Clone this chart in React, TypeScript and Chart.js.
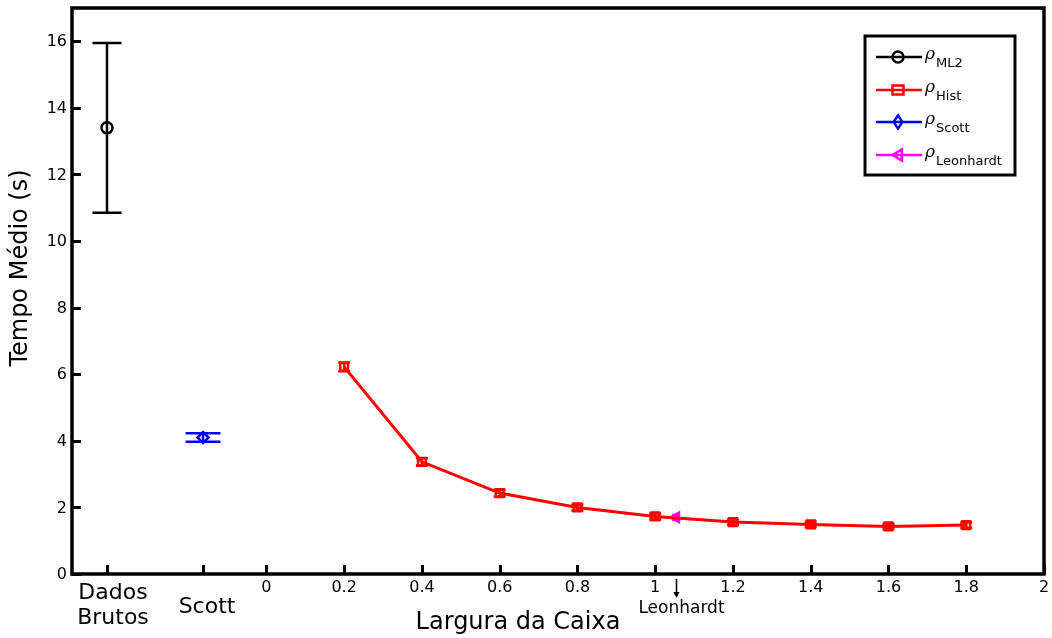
import React, { useEffect, useRef } from "react";
import { Chart, registerables } from "chart.js";

Chart.register(...registerables);

// ---- data ----
const categoryLabels = ["Dados\nBrutos", "Scott"];
const categoryPositions = [-0.41, -0.163];

const ml2X = [-0.41];
const ml2Mean = [13.4];
const ml2Err = [2.55];

const scottX = [-0.163];
const scottMean = [4.1];
const scottErr = [0.13];

const histWidths = [0.2, 0.4, 0.6, 0.8, 1.0, 1.2, 1.4, 1.6, 1.8];
const histMean = [6.22, 3.37, 2.43, 2.0, 1.73, 1.56, 1.49, 1.43, 1.47];
const histErr = [0.13, 0.11, 0.1, 0.09, 0.09, 0.08, 0.08, 0.08, 0.08];

const leonX = [1.054];
const leonMean = [1.7];
const leonErr = [0.07];

const xTickValues = [0, 0.2, 0.4, 0.6, 0.8, 1, 1.2, 1.4, 1.6, 1.8, 2];
const xTickLabels = ["0", "0.2", "0.4", "0.6", "0.8", "1", "1.2", "1.4", "1.6", "1.8", "2"];
const yTickValues = [0, 2, 4, 6, 8, 10, 12, 14, 16];
const yTickLabels = ["0", "2", "4", "6", "8", "10", "12", "14", "16"];

const legendSubs = ["ML2", "Hist", "Scott", "Leonhardt"];
const xTitle = "Largura da Caixa";
const yTitle = "Tempo Médio (s)";
const leonLabel = "Leonhardt";

const FONT = "'DejaVu Sans', sans-serif";

const errSpecs = [
  { mean: ml2Mean, err: ml2Err, cap: 29, color: "#000000", lw: 2.5 },
  { mean: histMean, err: histErr, cap: 12, color: "#ff0000", lw: 2.5 },
  { mean: scottMean, err: scottErr, cap: 35, color: "#0000ff", lw: 2.5 },
  { mean: leonMean, err: leonErr, cap: 8, color: "#ff00ff", lw: 2.5 },
];

function drawMarker(ctx: CanvasRenderingContext2D, style: string, x: number, y: number, r: number) {
  ctx.beginPath();
  if (style === "circle") {
    ctx.arc(x, y, r, 0, Math.PI * 2);
  } else if (style === "rect") {
    ctx.rect(x - r, y - r * 0.8, 2 * r, 1.6 * r);
  } else if (style === "rectRot") {
    ctx.moveTo(x, y - r * 1.2);
    ctx.lineTo(x + r * 0.8, y);
    ctx.lineTo(x, y + r * 1.2);
    ctx.lineTo(x - r * 0.8, y);
    ctx.closePath();
  } else if (style === "triangle") {
    ctx.moveTo(x - r, y);
    ctx.lineTo(x + r * 0.7, y - r);
    ctx.lineTo(x + r * 0.7, y + r);
    ctx.closePath();
  }
  ctx.stroke();
}

const errorBarPlugin = {
  id: "errorBars",
  beforeDatasetsDraw(chart: any) {
    const ctx = chart.ctx as CanvasRenderingContext2D;
    const ys = chart.scales.y;
    chart.data.datasets.forEach((ds: any, i: number) => {
      const spec = errSpecs[i];
      const meta = chart.getDatasetMeta(i);
      ctx.save();
      ctx.strokeStyle = spec.color;
      ctx.lineWidth = spec.lw;
      meta.data.forEach((pt: any, j: number) => {
        const x = pt.x;
        const yTop = ys.getPixelForValue(spec.mean[j] + spec.err[j]);
        const yBot = ys.getPixelForValue(spec.mean[j] - spec.err[j]);
        const h = spec.cap / 2;
        ctx.beginPath();
        ctx.moveTo(x, yTop);
        ctx.lineTo(x, yBot);
        ctx.moveTo(x - h, yTop);
        ctx.lineTo(x + h, yTop);
        ctx.moveTo(x - h, yBot);
        ctx.lineTo(x + h, yBot);
        ctx.stroke();
      });
      ctx.restore();
    });
  },
};

const axesPlugin = {
  id: "customAxes",
  afterDraw(chart: any) {
    const ctx = chart.ctx as CanvasRenderingContext2D;
    const { left, right, top, bottom } = chart.chartArea;
    const xs = chart.scales.x;
    const ys = chart.scales.y;
    ctx.save();
    // frame
    ctx.strokeStyle = "#000";
    ctx.lineWidth = 3.5;
    ctx.strokeRect(left, top, right - left, bottom - top);
    // ticks
    ctx.lineWidth = 3;
    const tl = 9;
    ctx.beginPath();
    [...categoryPositions, ...xTickValues].forEach((v) => {
      const px = Math.round(xs.getPixelForValue(v)) + 0.5;
      ctx.moveTo(px, bottom);
      ctx.lineTo(px, bottom - tl);
    });
    yTickValues.forEach((v) => {
      const py = Math.round(ys.getPixelForValue(v)) + 0.5;
      ctx.moveTo(left, py);
      ctx.lineTo(left + tl, py);
    });
    ctx.stroke();

    ctx.fillStyle = "#000";
    // y tick labels
    ctx.font = `16px ${FONT}`;
    ctx.textAlign = "right";
    ctx.textBaseline = "middle";
    yTickValues.forEach((v, i) => {
      ctx.fillText(yTickLabels[i], left - 5, ys.getPixelForValue(v) + 1);
    });
    // x tick labels
    ctx.textAlign = "center";
    xTickValues.forEach((v, i) => {
      ctx.fillText(xTickLabels[i], Math.min(xs.getPixelForValue(v), 1045), bottom + 14);
    });
    // category labels
    ctx.font = `22px ${FONT}`;
    const dl = categoryLabels[0].split("\n");
    const dx = xs.getPixelForValue(categoryPositions[0]) + 6;
    ctx.fillText(dl[0], dx, bottom + 19);
    ctx.fillText(dl[1], dx, bottom + 44);
    ctx.fillText(categoryLabels[1], xs.getPixelForValue(categoryPositions[1]) + 4, bottom + 33);

    // Leonhardt arrow + label
    const lx = Math.round(xs.getPixelForValue(leonX[0])) + 0.5;
    ctx.lineWidth = 1.5;
    ctx.beginPath();
    ctx.moveTo(lx, bottom + 5);
    ctx.lineTo(lx, bottom + 22);
    ctx.stroke();
    ctx.beginPath();
    ctx.moveTo(lx - 3, bottom + 18);
    ctx.lineTo(lx, bottom + 24);
    ctx.lineTo(lx + 3, bottom + 18);
    ctx.closePath();
    ctx.fill();
    ctx.font = `17px ${FONT}`;
    ctx.fillText(leonLabel, lx + 5, bottom + 35);

    // axis titles
    ctx.font = `24px ${FONT}`;
    ctx.fillText(xTitle, 518, bottom + 49);
    ctx.save();
    ctx.translate(21, 268);
    ctx.rotate(-Math.PI / 2);
    ctx.fillText(yTitle, 0, 0);
    ctx.restore();

    // legend
    const bx = 865, by = 36, bw = 150, bh = 139;
    ctx.fillStyle = "#fff";
    ctx.fillRect(bx, by, bw, bh);
    ctx.strokeStyle = "#000";
    ctx.lineWidth = 3;
    ctx.strokeRect(bx, by, bw, bh);
    const rows = [57, 90, 122, 155];
    chart.data.datasets.forEach((ds: any, i: number) => {
      const y = rows[i];
      ctx.strokeStyle = ds.borderColor;
      ctx.lineWidth = 2.5;
      ctx.beginPath();
      ctx.moveTo(876, y);
      ctx.lineTo(922, y);
      ctx.stroke();
      ctx.lineWidth = 2.5;
      drawMarker(ctx, ds.pointStyle, 898, y, 5.5);
      ctx.fillStyle = "#000";
      ctx.textAlign = "left";
      ctx.textBaseline = "alphabetic";
      ctx.font = `italic 17px 'DejaVu Serif', serif`;
      ctx.fillText("\u03C1", 925, y + 2);
      ctx.font = `13px ${FONT}`;
      ctx.fillText(legendSubs[i], 936, y + 10);
    });
    ctx.restore();
  },
};

export default function App() {
  const ref = useRef<HTMLCanvasElement>(null);
  useEffect(() => {
    if (!ref.current) return;
    const chart = new Chart(ref.current, {
      type: "scatter",
      data: {
        datasets: [
          {
            label: "ML2",
            data: ml2X.map((x, i) => ({ x, y: ml2Mean[i] })),
            borderColor: "#000000",
            backgroundColor: "rgba(0,0,0,0)",
            pointStyle: "circle",
            pointRadius: 5.5,
            pointBorderWidth: 2.5,
            showLine: false,
          },
          {
            label: "Hist",
            data: histWidths.map((x, i) => ({ x, y: histMean[i] })),
            borderColor: "#ff0000",
            backgroundColor: "rgba(0,0,0,0)",
            pointStyle: "rect",
            pointRadius: 5.5,
            pointBorderWidth: 2.5,
            borderWidth: 3,
            showLine: true,
          },
          {
            label: "Scott",
            data: scottX.map((x, i) => ({ x, y: scottMean[i] })),
            borderColor: "#0000ff",
            backgroundColor: "rgba(0,0,0,0)",
            pointStyle: "rectRot",
            pointRadius: 5.5,
            pointBorderWidth: 2.5,
            showLine: false,
          },
          {
            label: "Leonhardt",
            data: leonX.map((x, i) => ({ x, y: leonMean[i] })),
            borderColor: "#ff00ff",
            backgroundColor: "rgba(255,0,255,0.6)",
            pointStyle: "triangle",
            pointRotation: -90,
            pointRadius: 5.5,
            pointBorderWidth: 2.5,
            showLine: false,
          },
        ],
      },
      options: {
        responsive: false,
        animation: false,
        devicePixelRatio: 1,
        layout: { padding: { left: 72, top: 8, right: 4, bottom: 64 } },
        plugins: { legend: { display: false }, tooltip: { enabled: false } },
        scales: {
          x: { type: "linear", min: -0.5, max: 2, display: false },
          y: { type: "linear", min: 0, max: 17, display: false },
        },
      },
      plugins: [errorBarPlugin, axesPlugin],
    });
    return () => chart.destroy();
  }, []);
  return (
    <div style={{ position: "absolute", left: 0, top: 0, width: 1052, height: 638, background: "#fff" }}>
      <canvas ref={ref} width={1052} height={638} />
    </div>
  );
}
